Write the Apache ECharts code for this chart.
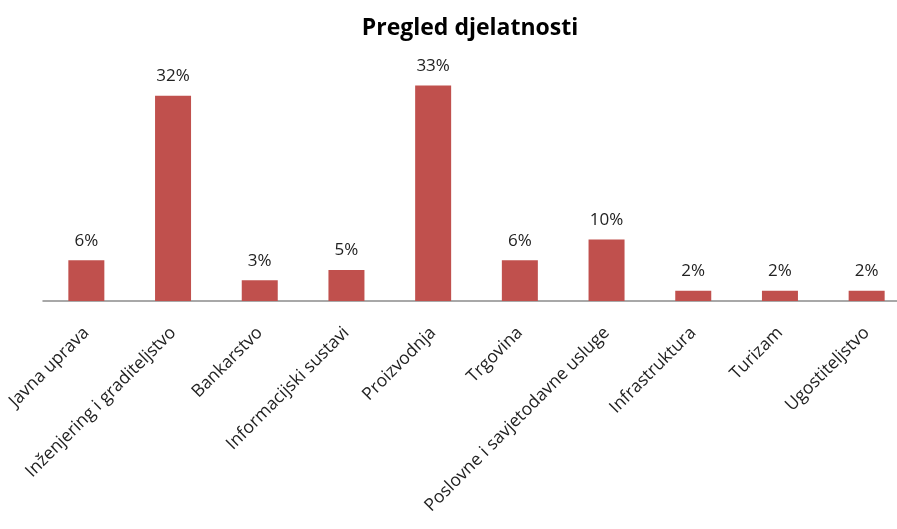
<!DOCTYPE html>
<html>
<head>
<meta charset="utf-8">
<script src="https://cdn.jsdelivr.net/npm/echarts@6/dist/echarts.min.js"></script>
<style>
html,body{margin:0;padding:0;background:#fff;}
#chart{width:897px;height:529px;}
</style>
</head>
<body>
<div id="chart"></div>
<script>
const titleText = "Pregled djelatnosti";
const categories = ["Javna uprava", "Inženjering i graditeljstvo", "Bankarstvo", "Informacijski sustavi", "Proizvodnja", "Trgovina", "Poslovne i savjetodavne usluge", "Infrastruktura", "Turizam", "Ugostiteljstvo"];
const values = [6.3, 31.7, 3.2, 4.8, 33.3, 6.3, 9.5, 1.6, 1.6, 1.6];

const chart = echarts.init(document.getElementById('chart'), null, {renderer: 'canvas'});
chart.setOption({
  animation: false,
  backgroundColor: '#ffffff',
  title: {
    text: titleText,
    left: 465, top: 12, textAlign: 'center',
    textStyle: {fontFamily: 'Open Sans', fontWeight: 'bold', fontSize: 23, color: '#000'}
  },
  grid: {left: 43, top: 42, width: 867, height: 259, containLabel: false, outerBoundsMode: 'none'},
  xAxis: {
    type: 'category',
    data: categories,
    axisLine: {lineStyle: {color: '#8c8c8c', width: 1.5}},
    axisTick: {show: false},
    axisLabel: {interval: 0, rotate: 45, margin: 29, fontFamily: 'Open Sans', fontSize: 17.5, color: '#222', hideOverlap: false}
  },
  yAxis: {
    type: 'value', min: 0, max: 40,
    show: false,
    splitLine: {show: false}
  },
  series: [{
    type: 'bar',
    data: values,
    barWidth: 36,
    itemStyle: {color: '#C0504D'},
    label: {
      show: true, position: 'top', distance: 11,
      fontFamily: 'Open Sans', fontSize: 17, color: '#222',
      formatter: p => Math.round(p.value) + '%'
    }
  }]
});
</script>
</body>
</html>
